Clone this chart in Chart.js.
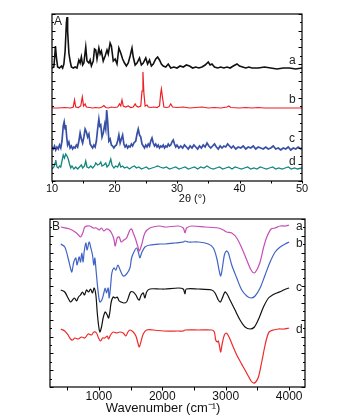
<!DOCTYPE html>
<html>
<head>
<meta charset="utf-8">
<script src="https://cdn.jsdelivr.net/npm/chart.js@4.4.1/dist/chart.umd.min.js"></script>
<style>
  html, body { margin: 0; padding: 0; background: #fff; }
  #wrap { position: relative; width: 340px; height: 416px; }
  canvas { position: absolute; left: 0; }
</style>
</head>
<body>
<div id="wrap">
  <canvas id="xrdChart" width="340" height="208" style="top:0"></canvas>
  <canvas id="ftirChart" width="340" height="208" style="top:208px"></canvas>
</div>
<script>
// ---- tick values
const xrdTicks = [10, 15, 20, 25, 30, 35, 40, 45, 50];
const xrdTickLabels = [10, 20, 30, 40, 50];
const ftirTicks = [500, 1000, 1500, 2000, 2500, 3000, 3500, 4000];
const ftirTickLabels = [1000, 2000, 3000, 4000];

// ---- panel A: XRD patterns, [2theta, intensity (a.u., stacked)]
const xrdA = [[10,113],[10.3,114],[10.45,126],[10.55,135],[10.7,124],[10.9,114],[11.2,113],[11.5,115],[11.7,113],[11.9,117],[12.1,130],[12.3,158],[12.4,164],[12.5,150],[12.7,128],[12.9,120],[13.1,114],[13.4,113],[13.7,114],[14.0,113],[14.3,121],[14.5,118],[14.7,124],[14.9,116],[15.1,118],[15.4,134],[15.6,120],[15.9,118],[16.1,121],[16.3,115],[16.6,120],[16.8,132],[17.0,131],[17.2,122],[17.5,133],[17.7,127],[17.9,130],[18.2,120],[18.5,125],[18.8,131],[19.0,127],[19.3,138],[19.5,135],[19.8,120],[20.1,122],[20.4,117],[20.7,133],[21.0,128],[21.3,122],[21.6,118],[21.9,115],[22.2,118],[22.5,125],[22.8,133],[23.0,124],[23.3,116],[23.6,118],[24.0,123],[24.3,116],[24.6,118],[25.0,123],[25.3,117],[25.6,121],[25.9,115],[26.2,117],[26.6,122],[26.9,124],[27.2,121],[27.5,117],[27.8,115],[28.2,114],[28.6,117],[29.0,113],[29.5,114],[30.0,113],[30.5,115],[31.0,114],[31.5,116],[32.0,115],[32.5,113],[33.0,114],[33.5,113],[34.0,114],[34.5,116],[35.0,119],[35.3,116],[35.6,117],[36.0,114],[36.5,113],[37.0,114],[37.5,113],[38.0,114],[38.5,113],[39.0,115],[39.6,117],[40.0,115],[40.5,114],[41.0,113],[41.5,114],[42.0,113],[43.0,113],[44.0,114],[45.0,113],[46.0,112],[47.0,113],[48.0,113],[49.0,112],[50.0,113]];
const xrdB = [[10,73],[11,73],[12,73.5],[13,73],[13.4,74],[13.6,81],[13.8,74],[14.2,73.5],[14.6,75],[14.85,84],[15.05,75],[15.3,77],[15.5,74],[16,73.5],[16.5,73],[17,73.5],[17.5,73],[18,74],[18.3,75.5],[18.6,73.5],[19,73],[19.5,74],[20,73.5],[20.5,74],[20.8,77],[21.0,75],[21.2,81],[21.4,75],[21.8,74],[22.2,75],[22.6,73.5],[23.0,74],[23.3,77],[23.5,75],[23.8,74],[24.2,75],[24.4,90],[24.55,109],[24.7,88],[24.9,75],[25.2,76],[25.4,74],[25.8,73.5],[26.3,74],[26.8,73.5],[27.2,75],[27.4,88],[27.5,92],[27.65,85],[27.9,74],[28.3,73.5],[28.7,74],[29.0,77],[29.3,74],[30,73.5],[31,74],[32,73],[33,73.5],[34,74],[35,73],[36,73.5],[37,73],[38,74],[38.3,75],[38.6,73.5],[40,73],[41,73.5],[42,73],[43,73.5],[44,73],[46,73],[48,73],[50,73]];
const xrdC = [[10,34],[10.2,32],[10.4,35],[10.6,31],[10.8,34],[11.0,32],[11.2,36],[11.4,33],[11.6,40],[11.8,55],[11.95,59],[12.1,52],[12.2,56],[12.35,44],[12.5,36],[12.7,39],[12.9,33],[13.1,35],[13.3,32],[13.5,34],[13.7,33],[13.9,36],[14.1,34],[14.3,40],[14.5,48],[14.7,42],[14.9,38],[15.1,44],[15.3,52],[15.5,49],[15.7,44],[15.9,47],[16.1,37],[16.3,35],[16.5,33],[16.7,36],[16.9,34],[17.1,40],[17.3,52],[17.5,62],[17.65,55],[17.8,56],[18.0,44],[18.2,48],[18.45,57],[18.6,52],[18.75,71],[18.9,60],[19.1,40],[19.3,42],[19.5,36],[19.7,35],[19.9,33],[20.1,35],[20.3,36],[20.5,40],[20.7,46],[20.9,38],[21.1,42],[21.3,46],[21.5,37],[21.7,34],[21.9,36],[22.1,33],[22.3,35],[22.5,34],[22.7,37],[22.9,35],[23.1,38],[23.4,40],[23.6,47],[23.8,52],[24.0,46],[24.2,44],[24.4,37],[24.6,35],[24.8,33],[25.0,36],[25.2,34],[25.4,37],[25.6,35],[25.8,40],[26.0,43],[26.2,38],[26.4,35],[26.6,37],[26.8,34],[27.0,36],[27.2,33],[27.4,35],[27.6,34],[27.8,36],[28.0,33],[28.2,35],[28.4,34],[28.6,37],[28.8,35],[29.0,36],[29.2,39],[29.4,41],[29.6,37],[29.8,34],[30.0,36],[30.3,33],[30.6,35],[30.9,33],[31.2,36],[31.5,34],[31.8,32],[32.1,35],[32.4,33],[32.7,36],[33.0,34],[33.3,32],[33.6,35],[33.9,33],[34.2,36],[34.5,34],[34.8,38],[35.1,35],[35.4,33],[35.7,35],[36.0,37],[36.3,34],[36.6,32],[36.9,35],[37.2,33],[37.5,35],[37.8,34],[38.1,37],[38.4,35],[38.7,33],[39.0,35],[39.4,32],[39.8,34],[40.2,33],[40.6,35],[41.0,32],[41.4,34],[41.8,33],[42.2,35],[42.6,32],[43.0,34],[43.4,33],[43.8,32],[44.2,34],[44.6,32],[45.0,33],[45.4,35],[45.8,32],[46.2,33],[46.6,31],[47.0,33],[47.4,32],[47.8,34],[48.2,31],[48.6,33],[49.0,32],[49.4,34],[49.8,32],[50,33]];
const xrdD = [[10,12],[10.3,14],[10.5,18],[10.6,21],[10.8,14],[11.0,13],[11.2,15],[11.4,14],[11.6,20],[11.8,26],[12.0,23],[12.2,27],[12.4,25],[12.6,22],[12.8,17],[13.0,13],[13.2,15],[13.5,12],[13.8,14],[14.1,12],[14.4,14],[14.7,16],[14.9,13],[15.2,15],[15.4,20],[15.6,14],[15.9,13],[16.2,15],[16.5,13],[16.8,15],[17.0,18],[17.3,16],[17.6,17],[17.8,19],[18.0,15],[18.3,16],[18.6,18],[18.8,14],[19.1,16],[19.4,22],[19.6,16],[19.9,13],[20.2,15],[20.5,14],[20.8,18],[21.0,14],[21.3,15],[21.6,13],[22.0,14],[22.4,12],[22.8,14],[23.2,15],[23.5,13],[23.9,14],[24.3,12],[24.7,13],[25.1,14],[25.5,12],[26.0,13],[26.5,14],[26.9,15],[27.3,14],[27.8,13],[28.3,14],[28.8,12],[29.3,13],[29.8,14],[30.3,12],[30.8,13],[31.3,14],[31.8,12],[32.3,13],[32.8,14],[33.3,12],[33.8,14],[34.3,13],[34.8,15],[35.3,13],[35.8,12],[36.3,13],[36.8,14],[37.3,12],[37.8,13],[38.3,14],[38.8,12],[39.3,14],[39.8,13],[40.3,12],[40.8,13],[41.3,14],[41.8,12],[42.3,13],[42.8,12],[43.3,14],[43.8,13],[44.3,12],[44.8,13],[45.3,14],[45.8,12],[46.3,13],[46.8,12],[47.3,13],[47.8,14],[48.3,12],[48.8,13],[49.3,12],[50,13]];

// ---- panel B: FTIR spectra, [wavenumber, transmittance (a.u., stacked)]
const ftirA = [[400,160],[542,158],[648,154],[711,150],[752,155],[779,160],[858,161],[910,159],[963,159],[1005,157],[1042,159],[1079,156],[1121,158],[1163,157],[1200,154],[1237,148],[1258,141],[1289,149],[1321,150],[1352,145],[1395,147],[1437,149],[1490,157],[1516,158],[1542,154],[1584,147],[1621,139],[1637,136],[1674,142],[1726,154],[1805,159],[1963,161],[2042,160],[2252,161],[2331,159],[2358,154],[2384,159],[2463,161],[2674,160],[2884,159],[2963,157],[3016,155],[3095,154],[3174,149],[3253,139],[3332,127],[3400,117],[3447,114],[3490,117],[3542,125],[3595,139],[3648,150],[3716,158],[3779,159],[3858,161],[3937,161],[4000,162]];
const ftirB = [[400,143],[463,140],[515,129],[553,119],[574,115],[605,125],[637,129],[657,122],[689,130],[711,125],[732,134],[752,125],[768,135],[795,144],[815,137],[847,145],[874,139],[900,132],[921,122],[937,129],[953,119],[973,105],[995,92],[1016,85],[1047,87],[1079,94],[1100,99],[1121,94],[1147,99],[1163,89],[1184,100],[1205,114],[1237,119],[1268,117],[1300,122],[1342,116],[1384,111],[1437,113],[1490,119],[1516,129],[1553,135],[1595,139],[1626,134],[1647,129],[1674,134],[1726,140],[1805,142],[1963,143],[2042,143],[2200,144],[2331,145],[2358,146],[2410,145],[2568,145],[2726,143],[2805,139],[2858,129],[2895,117],[2921,111],[2947,119],[2979,132],[3011,136],[3042,134],[3095,122],[3174,109],[3253,97],[3332,91],[3400,89],[3463,91],[3542,99],[3621,112],[3700,125],[3779,135],[3858,140],[3937,143],[4000,145]];
const ftirC = [[400,97],[463,95],[515,89],[553,85],[585,87],[616,89],[648,86],[679,90],[711,92],[742,95],[774,92],[805,97],[837,95],[869,98],[900,94],[926,99],[953,92],[974,75],[995,62],[1016,55],[1042,60],[1068,69],[1100,75],[1132,72],[1153,69],[1174,75],[1195,85],[1226,90],[1258,89],[1289,90],[1321,86],[1352,85],[1395,84],[1437,85],[1469,90],[1500,95],[1542,95],[1584,92],[1616,88],[1637,87],[1668,92],[1700,94],[1726,89],[1753,95],[1805,98],[1963,98],[2042,98],[2252,99],[2331,98],[2358,93],[2378,98],[2568,98],[2779,97],[2832,94],[2884,87],[2916,85],[2947,89],[2989,95],[3021,93],[3068,87],[3147,77],[3226,67],[3305,60],[3384,58],[3453,60],[3526,69],[3595,80],[3674,89],[3737,92],[3805,94],[3884,96],[3947,98],[4000,99]];
const ftirD = [[400,58],[463,56],[515,52],[553,48],[585,47],[621,49],[674,48],[727,50],[779,49],[832,53],[884,52],[921,55],[963,54],[995,49],[1026,46],[1058,49],[1095,49],[1132,51],[1153,48],[1184,52],[1226,55],[1279,54],[1332,55],[1384,54],[1426,51],[1458,55],[1490,57],[1542,55],[1584,51],[1616,44],[1637,40],[1663,45],[1700,53],[1753,57],[1858,57],[2016,56],[2252,56],[2331,56],[2358,57],[2568,57],[2779,57],[2821,55],[2842,47],[2868,45],[2884,46],[2905,40],[2921,35],[2947,44],[2979,52],[3011,54],[3053,50],[3105,42],[3174,32],[3242,24],[3295,18],[3347,12],[3400,6],[3437,4],[3474,5],[3516,10],[3568,25],[3611,39],[3648,49],[3684,55],[3753,57],[3832,58],[3911,58],[4000,59]];

const FONT = "'Liberation Sans', Arial, sans-serif";

const toXY = (pairs) => pairs.map(([x, y]) => ({ x, y }));

// frame, inward/outward tick marks, curve letters and panel letter
const framePlugin = {
  id: "frame",
  afterDatasetsDraw(chart, args, opts) {
    const { ctx, chartArea: area } = chart;
    const xs = chart.scales.x;
    const ys = chart.scales.y;
    ctx.save();
    ctx.strokeStyle = "#000";
    ctx.lineWidth = 1;
    ctx.beginPath();
    ys.ticks.forEach((t, i) => {
      const y = Math.round(ys.getPixelForValue(t.value)) + 0.5;
      const len = i % 2 ? 2 : 3.5;
      ctx.moveTo(area.left, y);
      ctx.lineTo(area.left + len, y);
      ctx.moveTo(area.right, y);
      ctx.lineTo(area.right - len, y);
    });
    xs.ticks.forEach((t) => {
      const x = Math.round(xs.getPixelForValue(t.value)) + 0.5;
      ctx.moveTo(x, area.bottom);
      ctx.lineTo(x, area.bottom + opts.xTickLen);
    });
    ctx.stroke();
    ctx.lineWidth = 1.2;
    ctx.strokeRect(area.left, area.top, area.right - area.left, area.bottom - area.top);

    ctx.fillStyle = "#222";
    ctx.font = `12px ${FONT}`;
    ctx.textAlign = "left";
    ctx.textBaseline = "middle";
    ctx.fillText(opts.panel, area.left + 2, area.top + 8);
    opts.curveLabels.forEach((l) => {
      ctx.fillText(l.text, xs.getPixelForValue(l.x), ys.getPixelForValue(l.y));
    });
    ctx.restore();
  }
};

function lineSet(pairs, color, width, tension) {
  return {
    data: toXY(pairs),
    borderColor: color,
    borderWidth: width,
    pointRadius: 0,
    tension: tension,
    fill: false
  };
}

function hiddenY(max, step) {
  return {
    min: 0,
    max: max,
    display: true,
    ticks: { display: false, stepSize: step, includeBounds: false },
    grid: { display: false, drawTicks: false },
    border: { display: false },
    afterFit(scale) { scale.width = 0; }
  };
}

function shownX(min, max, ticks, labels, fontSize, pad, title, titleSize, titlePad, height) {
  return {
    type: "linear",
    min: min,
    max: max,
    grid: { display: false, drawTicks: false },
    border: { display: false },
    afterBuildTicks(scale) { scale.ticks = ticks.map((v) => ({ value: v })); },
    ticks: {
      autoSkip: false,
      maxRotation: 0,
      padding: pad,
      color: "#111",
      font: { family: FONT, size: fontSize },
      callback: (v) => (labels.includes(v) ? String(v) : "")
    },
    title: {
      display: true,
      text: title,
      color: "#111",
      padding: { top: 0, bottom: titlePad },
      font: { family: FONT, size: titleSize }
    },
    afterFit(scale) { scale.height = height; }
  };
}

new Chart(document.getElementById("xrdChart"), {
  type: "line",
  data: {
    datasets: [
      lineSet(xrdA, "#111111", 1.6, 0),
      lineSet(xrdB, "#ee1f24", 1.2, 0),
      lineSet(xrdC, "#3750a6", 1.7, 0),
      lineSet(xrdD, "#13877d", 1.3, 0)
    ]
  },
  options: {
    responsive: false,
    animation: false,
    events: [],
    layout: { padding: { top: 14, left: 52, right: 38, bottom: 0 } },
    plugins: {
      legend: { display: false },
      tooltip: { enabled: false },
      frame: {
        panel: "A",
        xTickLen: 2.5,
        curveLabels: [
          { text: "a", x: 47.9, y: 120 },
          { text: "b", x: 47.9, y: 81 },
          { text: "c", x: 47.9, y: 42 },
          { text: "d", x: 47.9, y: 19 }
        ]
      }
    },
    scales: {
      x: shownX(10, 50, xrdTicks, xrdTickLabels, 11, 1.5,
        "\u00a0\u00a0\u00a0\u00a0\u00a0\u00a0\u00a0\u00a0\u00a0\u00a02\u03b8 (\u00b0)", 11, 2.4, 27),
      y: hiddenY(167, 8.35)
    }
  },
  plugins: [framePlugin]
});

new Chart(document.getElementById("ftirChart"), {
  type: "line",
  data: {
    datasets: [
      lineSet(ftirA, "#c64db6", 1.2, 0.3),
      lineSet(ftirB, "#3f63c6", 1.2, 0.3),
      lineSet(ftirC, "#111111", 1.2, 0.3),
      lineSet(ftirD, "#ee2a2a", 1.2, 0.3)
    ]
  },
  options: {
    responsive: false,
    animation: false,
    events: [],
    layout: { padding: { top: 11, left: 50, right: 35, bottom: 0 } },
    plugins: {
      legend: { display: false },
      tooltip: { enabled: false },
      frame: {
        panel: "B",
        xTickLen: 3.5,
        curveLabels: [
          { text: "a", x: 4110, y: 160 },
          { text: "b", x: 4110, y: 143 },
          { text: "c", x: 4110, y: 99 },
          { text: "d", x: 4110, y: 57 }
        ]
      }
    },
    scales: {
      x: shownX(230, 4250, ftirTicks, ftirTickLabels, 12, 2,
        "Wavenumber (cm\u207b\u00b9)\u00a0\u00a0\u00a0\u00a0\u00a0\u00a0\u00a0\u00a0", 13, 0, 29),
      y: hiddenY(168, 8.4)
    }
  },
  plugins: [framePlugin]
});
</script>
</body>
</html>
